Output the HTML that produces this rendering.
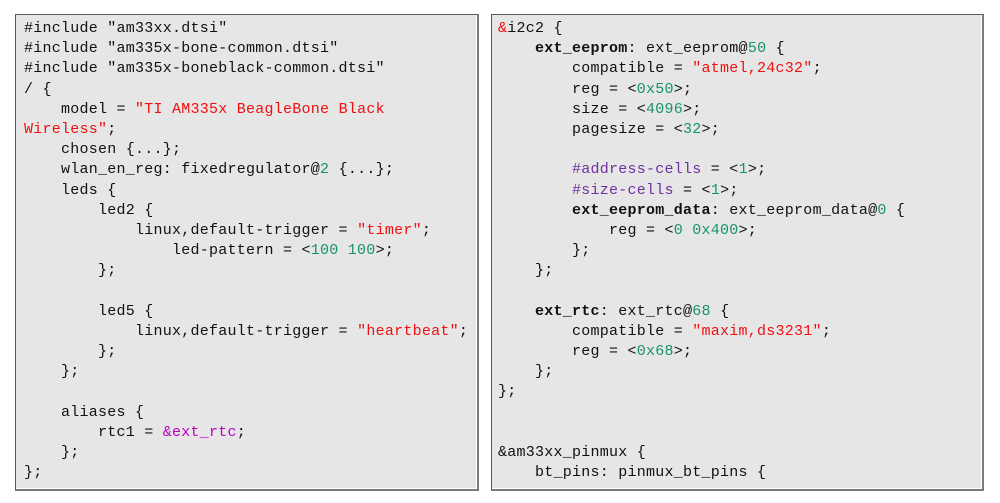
<!DOCTYPE html>
<html><head><meta charset="utf-8"><style>
html,body{margin:0;padding:0;background:#fff;width:1000px;height:503px;overflow:hidden}
.p{position:absolute;top:14px;height:474px;background:#e6e6e6;border:1px solid #5a5a5a;border-right:2px solid #7a7a7a;border-bottom:2px solid #7a7a7a;box-shadow:inset -1px -1px 0 #fff}
pre{margin:0;position:absolute;top:4px;font-family:"Liberation Mono",monospace;font-size:15px;letter-spacing:0.25px;line-height:20.18px;color:#111}
.r{color:#f01010}.g{color:#16936e}.v{color:#7030a0}.m{color:#c000c0}b{font-weight:bold}
</style></head><body>
<div class="p" style="left:15px;width:461px"><pre style="left:8px">#include "am33xx.dtsi"
#include "am335x-bone-common.dtsi"
#include "am335x-boneblack-common.dtsi"
/ {
    model = <span class="r">"TI AM335x BeagleBone Black</span>
<span class="r">Wireless"</span>;
    chosen {...};
    wlan_en_reg: fixedregulator@<span class="g">2</span> {...};
    leds {
        led2 {
            linux,default-trigger = <span class="r">"timer"</span>;
                led-pattern = &lt;<span class="g">100 100</span>&gt;;
        };

        led5 {
            linux,default-trigger = <span class="r">"heartbeat"</span>;
        };
    };

    aliases {
        rtc1 = <span class="m">&amp;ext_rtc</span>;
    };
};</pre></div>
<div class="p" style="left:491px;width:490px"><pre style="left:6px"><span class="r">&amp;</span>i2c2 {
    <b>ext_eeprom</b>: ext_eeprom@<span class="g">50</span> {
        compatible = <span class="r">"atmel,24c32"</span>;
        reg = &lt;<span class="g">0x50</span>&gt;;
        size = &lt;<span class="g">4096</span>&gt;;
        pagesize = &lt;<span class="g">32</span>&gt;;

        <span class="v">#address-cells</span> = &lt;<span class="g">1</span>&gt;;
        <span class="v">#size-cells</span> = &lt;<span class="g">1</span>&gt;;
        <b>ext_eeprom_data</b>: ext_eeprom_data@<span class="g">0</span> {
            reg = &lt;<span class="g">0 0x400</span>&gt;;
        };
    };

    <b>ext_rtc</b>: ext_rtc@<span class="g">68</span> {
        compatible = <span class="r">"maxim,ds3231"</span>;
        reg = &lt;<span class="g">0x68</span>&gt;;
    };
};


&amp;am33xx_pinmux {
    bt_pins: pinmux_bt_pins {</pre></div>
</body></html>
